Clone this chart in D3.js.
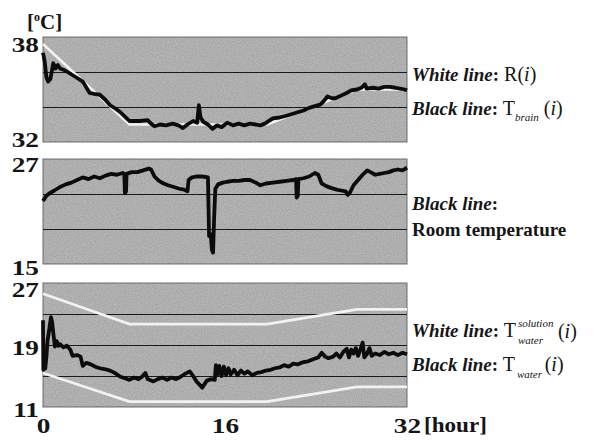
<!DOCTYPE html>
<html>
<head>
<meta charset="utf-8">
<script src="https://cdn.jsdelivr.net/npm/d3@7"></script>
<style>
body { margin: 0; background: #fff; }
text { font-family: "Liberation Serif", "Times New Roman", serif; fill: #151515; }
</style>
</head>
<body>
<svg id="chart" width="597" height="443"></svg>
<script>
// hour values, [hour, degC]
const brainWhite = [[0, 37.6], [7.6, 33.0], [19.7, 33.0], [27.6, 35.0], [32, 35.0]];
const brainBlack = [
  [0, 37.1], [0.15, 36.6], [0.3, 35.7], [0.45, 35.45], [0.65, 35.6], [0.9, 36.5], [1.1, 36.2],
  [1.3, 36.4], [1.5, 36.2], [1.9, 36.1], [2.4, 35.9], [2.9, 35.7], [3.5, 35.45], [4.1, 34.8],
  [4.5, 34.75], [5.0, 34.7], [5.5, 34.4], [5.9, 34.1], [6.4, 33.9], [6.8, 33.7], [7.2, 33.45],
  [7.6, 33.2], [8.0, 33.2], [8.5, 33.2], [9.2, 33.25], [9.5, 33.05], [9.8, 32.9], [10.3, 33.0],
  [10.8, 32.95], [11.4, 33.05], [11.9, 32.95], [12.3, 32.8], [12.7, 33.0], [13.2, 33.2],
  [13.55, 33.1], [13.7, 34.1], [13.85, 33.4], [14.1, 33.15], [14.5, 33.0], [14.9, 32.75],
  [15.3, 32.95], [15.7, 32.85], [16.2, 33.1], [16.7, 32.95], [17.2, 33.05], [17.7, 32.95],
  [18.2, 33.05], [18.7, 33.0], [19.1, 32.95], [19.5, 33.05], [20.2, 33.35], [20.8, 33.4],
  [21.4, 33.5], [21.9, 33.6], [22.4, 33.7], [22.9, 33.8], [23.4, 33.95], [23.9, 34.05],
  [24.4, 34.15], [24.7, 34.35], [25.0, 34.6], [25.4, 34.5], [25.7, 34.5], [26.2, 34.65],
  [26.7, 34.8], [27.1, 34.95], [27.6, 35.0], [28.0, 35.1], [28.3, 35.3], [28.45, 35.05],
  [29.0, 35.1], [29.5, 35.05], [30.0, 35.15], [30.5, 35.15], [31.0, 35.1], [31.4, 35.05],
  [31.8, 35.0], [32.0, 34.95]
];
const roomBlack = [
  [0, 22.2], [0.3, 22.8], [0.6, 23.1], [1.0, 23.4], [1.5, 23.8], [2.0, 24.1], [2.5, 24.3],
  [3.0, 24.6], [3.5, 24.9], [4.0, 24.7], [4.5, 25.0], [5.0, 24.8], [5.5, 25.1], [6.0, 25.3],
  [6.5, 25.2], [7.0, 25.4], [7.15, 25.3], [7.2, 23.1], [7.3, 23.3], [7.35, 25.3], [7.8, 25.5],
  [8.3, 25.5], [8.8, 25.7], [9.3, 25.9], [9.5, 25.8], [9.8, 25.0], [10.2, 24.5], [10.6, 24.2],
  [11.0, 24.0], [11.5, 23.8], [12.0, 23.6], [12.4, 23.5], [12.7, 23.3], [12.8, 24.6],
  [13.1, 24.9], [13.5, 25.0], [14.0, 25.0], [14.5, 24.9], [14.6, 18.2], [14.75, 18.4],
  [14.85, 16.6], [14.95, 16.3], [15.05, 20.5], [15.15, 23.6], [15.4, 24.1], [15.8, 24.3],
  [16.2, 24.4], [16.7, 24.5], [17.2, 24.5], [17.7, 24.6], [18.2, 24.6], [18.7, 24.3],
  [19.1, 24.0], [19.6, 24.2], [20.2, 24.3], [20.8, 24.4], [21.4, 24.5], [22.0, 24.6],
  [22.25, 24.7], [22.3, 22.6], [22.4, 22.8], [22.45, 24.7], [22.9, 24.8], [23.4, 25.0],
  [23.9, 25.4], [24.2, 25.2], [24.5, 24.2], [24.9, 23.9], [25.3, 23.7], [25.8, 23.5],
  [26.2, 23.4], [26.6, 23.3], [26.8, 22.9], [27.0, 23.2], [27.3, 24.0], [27.7, 24.6],
  [28.1, 25.2], [28.5, 25.7], [28.8, 25.5], [29.2, 25.2], [29.6, 25.3], [30.0, 25.4],
  [30.4, 25.5], [30.8, 25.7], [31.2, 25.8], [31.6, 25.7], [32.0, 26.0]
];
const waterUpper = [[0, 25.6], [7.6, 21.7], [19.7, 21.7], [27.6, 23.6], [32, 23.6]];
const waterLower = [[0, 15.4], [7.6, 11.7], [19.7, 11.7], [27.6, 13.6], [32, 13.6]];
const waterBlack = [
  [0, 22.2], [0.03, 15.8], [0.2, 16.0], [0.3, 17.5], [0.4, 19.6], [0.55, 21.0], [0.7, 22.6],
  [0.8, 22.0], [0.9, 20.6], [1.05, 18.8], [1.2, 19.5], [1.35, 18.9], [1.5, 19.1], [1.8, 18.7],
  [2.1, 18.9], [2.4, 18.4], [2.6, 17.6], [3.0, 17.7], [3.3, 17.5], [3.5, 16.3], [3.8, 16.7],
  [4.2, 16.5], [4.6, 16.2], [5.0, 16.0], [5.4, 15.9], [5.9, 15.7], [6.3, 15.4], [6.8, 14.9],
  [7.2, 14.7], [7.6, 14.5], [8.0, 14.8], [8.4, 14.6], [8.7, 14.9], [9.0, 15.4], [9.2, 14.6],
  [9.7, 14.3], [10.1, 14.6], [10.5, 14.8], [10.9, 14.5], [11.3, 14.8], [11.7, 14.6], [12.0, 14.8],
  [12.4, 15.2], [12.9, 15.6], [13.2, 15.0], [13.5, 14.3], [14.0, 13.5], [14.4, 14.4], [14.8, 14.6],
  [15.1, 14.5], [15.2, 16.4], [15.35, 15.2], [15.5, 16.3], [15.7, 15.0], [15.9, 16.2], [16.1, 15.1],
  [16.3, 16.0], [16.5, 15.2], [16.8, 15.8], [17.1, 15.1], [17.4, 15.7], [17.7, 15.3], [18.0, 15.6],
  [18.4, 15.1], [18.8, 15.4], [19.2, 15.5], [19.6, 15.7], [20.0, 15.8], [20.4, 16.0], [20.8, 16.1],
  [21.2, 16.4], [21.6, 16.2], [22.0, 16.6], [22.4, 16.5], [22.9, 16.8], [23.3, 16.9], [23.8, 17.2],
  [24.2, 17.4], [24.5, 18.0], [24.8, 17.5], [25.1, 17.3], [25.5, 17.5], [25.8, 17.9], [26.1, 17.4],
  [26.4, 18.1], [26.7, 18.5], [26.9, 17.4], [27.1, 18.4], [27.3, 17.9], [27.5, 18.6], [27.7, 17.6],
  [27.9, 18.4], [28.1, 19.3], [28.25, 17.4], [28.5, 17.9], [28.7, 18.6], [28.9, 17.6], [29.2, 17.9],
  [29.6, 17.7], [30.0, 18.1], [30.4, 17.8], [30.8, 18.0], [31.2, 17.7], [31.6, 18.0], [32.0, 17.8]
];
const xTicks = [0, 16, 32];

const panels = [
  {top: 37, bottom: 142, domain: [32, 38], grid: [34, 36], labels: [[38, 15], [32, 5]],
   white: [brainWhite], black: brainBlack},
  {top: 159, bottom: 264, domain: [15, 27], grid: [19, 23], labels: [[27, 13], [15, 11]],
   white: [], black: roomBlack},
  {top: 283, bottom: 407, domain: [11, 27], grid: [15, 19, 23], labels: [[27, 14], [19, 10], [11, 10]],
   white: [waterUpper, waterLower], black: waterBlack}
];

const svg = d3.select("#chart");
const left = 43, right = 407;
const x = d3.scaleLinear().domain([0, 32]).range([left, right]);

// scanned-paper grain for the grey plot areas
const grain = svg.append("defs").append("filter").attr("id", "grain")
  .attr("x", 0).attr("y", 0).attr("width", 1).attr("height", 1);
grain.append("feTurbulence").attr("type", "fractalNoise").attr("baseFrequency", 0.9)
  .attr("numOctaves", 2).attr("seed", 3).attr("result", "n");
grain.append("feColorMatrix").attr("in", "n").attr("type", "matrix")
  .attr("values", "0 0 0 0 0  0 0 0 0 0  0 0 0 0 0  0 0 0 0.2 0").attr("result", "a");
grain.append("feComposite").attr("in", "a").attr("in2", "SourceGraphic").attr("operator", "in");

panels.forEach(p => {
  const y = d3.scaleLinear().domain(p.domain).range([p.bottom, p.top]);
  const line = d3.line().x(d => x(d[0])).y(d => y(d[1]));
  const g = svg.append("g");

  g.append("rect")
    .attr("x", left).attr("y", p.top)
    .attr("width", right - left).attr("height", p.bottom - p.top)
    .attr("fill", "#c2c2c2").attr("stroke", "#707070").attr("stroke-width", 1);
  g.append("rect")
    .attr("x", left).attr("y", p.top)
    .attr("width", right - left).attr("height", p.bottom - p.top)
    .attr("fill", "#808080").attr("filter", "url(#grain)");

  g.selectAll(".grid").data(p.grid).join("line")
    .attr("x1", left).attr("x2", right)
    .attr("y1", d => Math.round(y(d)) + 0.5).attr("y2", d => Math.round(y(d)) + 0.5)
    .attr("stroke", "#1a1a1a").attr("stroke-width", 1.2);

  p.white.forEach(w => g.append("path").attr("d", line(w))
    .attr("fill", "none").attr("stroke", "#f2f2f2").attr("stroke-width", 2.6));

  g.append("path").attr("d", line(p.black))
    .attr("fill", "none").attr("stroke", "#0c0c0c").attr("stroke-width", 3.8)
    .attr("stroke-linejoin", "round");

  p.labels.forEach(([v, dy]) => {
    svg.append("text")
      .attr("transform", `translate(39,${y(v) + dy}) scale(1.3,1)`)
      .attr("text-anchor", "end")
      .style("font-size", "21px").style("font-weight", "bold")
      .text(v);
  });
});

// x axis labels
const xAxis = svg.append("g").attr("transform", "translate(0,407)")
  .call(d3.axisBottom(x).tickValues(xTicks).tickSize(0).tickPadding(11).tickFormat(d3.format("d")));
xAxis.select(".domain").remove();
xAxis.selectAll("text")
  .attr("transform", "scale(1.3,1)")
  .style("font-family", "'Liberation Serif', serif")
  .style("font-size", "21px").style("font-weight", "bold").attr("fill", "#151515");

svg.append("text").attr("transform", "translate(424,432) scale(1.1,1)")
  .style("font-size", "21px").style("font-weight", "bold").text("[hour]");

// unit label
const unit = svg.append("text").attr("x", 27).attr("y", 29)
  .style("font-size", "21px").style("font-weight", "bold");
unit.append("tspan").text("[");
unit.append("tspan").attr("dy", -8).style("font-size", "12px").text("o");
unit.append("tspan").attr("dy", 8).text("C]");

// right-side legend texts
function legend(y, head, body) {
  const t = svg.append("text").attr("x", 412).attr("y", y).style("font-size", "19px");
  t.append("tspan").style("font-weight", "bold").style("font-style", "italic").text(head);
  t.append("tspan").style("font-weight", "bold").text(":");
  body(t);
  return t;
}
function plain(t, s, italic) {
  t.append("tspan").style("font-size", "20px")
    .style("font-style", italic ? "italic" : "normal").text(s);
}

legend(81, "White line", t => { plain(t, " R("); plain(t, "i", true); plain(t, ")"); });
legend(115, "Black line", t => {
  plain(t, " T");
  t.append("tspan").attr("dy", 6).style("font-size", "11px").style("font-style", "italic").text("brain");
  t.append("tspan").attr("dy", -6).style("font-size", "20px").text(" (");
  plain(t, "i", true); plain(t, ")");
});

legend(210, "Black line", () => {});
svg.append("text").attr("x", 412).attr("y", 236)
  .style("font-size", "19px").style("font-weight", "bold").text("Room temperature");

const w1 = legend(337, "White line", t => plain(t, " T"));
const e1 = w1.node().getBBox();
const sx = e1.x + e1.width + 2;
const sup = svg.append("text").attr("x", sx).attr("y", 327)
  .style("font-size", "11px").style("font-style", "italic").text("solution");
svg.append("text").attr("x", sx).attr("y", 344)
  .style("font-size", "11px").style("font-style", "italic").text("water");
const se = sup.node().getBBox();
const r1 = svg.append("text").attr("x", se.x + se.width + 4).attr("y", 338).style("font-size", "20px");
plain(r1, "("); plain(r1, "i", true); plain(r1, ")");

const b1 = legend(371, "Black line", t => plain(t, " T"));
const e2 = b1.node().getBBox();
const sx2 = e2.x + e2.width + 2;
const sub2 = svg.append("text").attr("x", sx2).attr("y", 378)
  .style("font-size", "11px").style("font-style", "italic").text("water");
const s2 = sub2.node().getBBox();
const r2 = svg.append("text").attr("x", s2.x + s2.width + 2).attr("y", 371).style("font-size", "20px");
plain(r2, "("); plain(r2, "i", true); plain(r2, ")");
</script>
</body>
</html>
